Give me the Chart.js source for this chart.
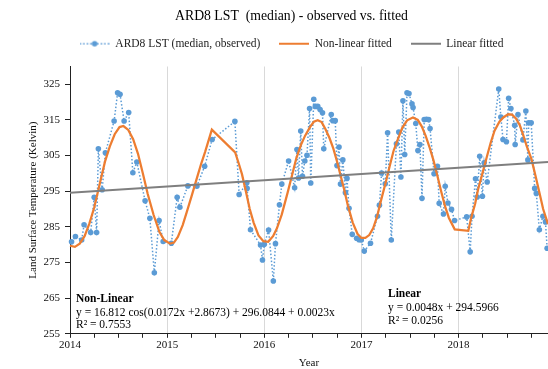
<!DOCTYPE html>
<html>
<head>
<meta charset="utf-8">
<script src="https://cdn.jsdelivr.net/npm/chart.js@4.4.1/dist/chart.umd.min.js"></script>
<style>
  html, body { margin: 0; padding: 0; background: #fff; overflow: hidden; }
  #wrap { width: 584px; height: 369px; }
</style>
</head>
<body>
<div id="wrap"><canvas id="lst-chart" width="584" height="369"></canvas></div>
<script>
// observed median LST (decimal year, Kelvin)
const obsYears = [
  2014.016, 2014.056, 2014.12, 2014.145, 2014.213, 2014.249, 2014.274, 2014.292, 2014.331, 2014.364,
  2014.454, 2014.49, 2014.515, 2014.557, 2014.604, 2014.647, 2014.688, 2014.773, 2014.822, 2014.868,
  2014.917, 2014.959, 2015.043, 2015.103, 2015.131, 2015.213, 2015.306, 2015.386, 2015.463, 2015.697,
  2015.741, 2015.82, 2015.823, 2015.858, 2015.961, 2015.981, 2016.0, 2016.044, 2016.093, 2016.115,
  2016.156, 2016.18, 2016.25, 2016.312, 2016.336, 2016.352, 2016.375, 2016.393, 2016.417, 2016.439,
  2016.466, 2016.478, 2016.509, 2016.525, 2016.55, 2016.574, 2016.599, 2016.612, 2016.689, 2016.705,
  2016.73, 2016.748, 2016.769, 2016.784, 2016.808, 2016.835, 2016.851, 2016.872, 2016.905, 2016.95,
  2016.975, 2016.998, 2017.029, 2017.093, 2017.165, 2017.185, 2017.207, 2017.245, 2017.269, 2017.307,
  2017.36, 2017.384, 2017.406, 2017.427, 2017.445, 2017.469, 2017.489, 2017.52, 2017.531, 2017.559,
  2017.581, 2017.602, 2017.623, 2017.646, 2017.669, 2017.692, 2017.706, 2017.747, 2017.782, 2017.8,
  2017.844, 2017.862, 2017.89, 2017.927, 2017.958, 2018.083, 2018.119, 2018.138, 2018.174, 2018.191,
  2018.217, 2018.245, 2018.263, 2018.294, 2018.413, 2018.435, 2018.457, 2018.492, 2018.515, 2018.538,
  2018.577, 2018.582, 2018.611, 2018.662, 2018.692, 2018.713, 2018.721, 2018.747, 2018.783, 2018.8,
  2018.831, 2018.868, 2018.894, 2018.911
];
const obsLST = [
  280.8, 282.3, 281.3, 285.6, 283.4, 293.3, 283.4, 306.9, 295.4, 305.8,
  314.7, 322.6, 322.2, 314.7, 317.1, 300.2, 303.2, 292.3, 287.4, 272.1,
  286.8, 280.9, 280.4, 293.3, 290.5, 296.5, 296.4, 302.0, 309.5, 314.6,
  294.1, 297.4, 295.8, 284.2, 279.9, 275.7, 280.1, 284.1, 269.8, 280.3,
  291.2, 297.0, 303.5, 296.0, 306.7, 298.7, 311.9, 299.2, 303.5, 305.1,
  318.2, 297.3, 320.8, 318.8, 318.8, 317.9, 317.0, 306.9, 316.5, 314.8,
  314.8, 302.2, 307.4, 297.0, 303.8, 294.6, 298.6, 290.2, 282.9, 281.8,
  281.4, 281.3, 278.2, 280.4, 288.0, 291.1, 300.1, 297.1, 311.4, 281.3,
  308.3, 311.6, 299.0, 320.4, 305.3, 322.6, 322.4, 319.5, 318.5, 314.0,
  306.4, 308.1, 293.0, 315.1, 315.2, 315.1, 312.6, 299.9, 302.0, 291.6,
  288.6, 296.4, 291.7, 289.9, 286.8, 287.8, 278.0, 288.0, 298.5, 293.4,
  304.8, 293.6, 303.0, 297.6, 323.7, 315.8, 309.5, 308.9, 321.1, 318.2,
  313.5, 308.1, 316.5, 309.4, 317.5, 303.8, 314.2, 314.2, 295.8, 294.4,
  284.2, 288.0, 286.4, 279.0
];

// non-linear fitted curve
const fitYears = [
  2014.00, 2014.05, 2014.10, 2014.15, 2014.20, 2014.25, 2014.31, 2014.36, 2014.41, 2014.46,
  2014.51, 2014.55, 2014.60, 2014.65, 2014.70, 2014.75, 2014.80, 2014.86, 2014.92, 2014.97,
  2015.03, 2015.07, 2015.11, 2015.16, 2015.20, 2015.25, 2015.30, 2015.35, 2015.39, 2015.46,
  2015.70, 2015.74, 2015.77, 2015.81, 2015.85, 2015.89, 2015.94, 2015.99, 2016.04, 2016.09,
  2016.13, 2016.18, 2016.24, 2016.29, 2016.33, 2016.38, 2016.42, 2016.47, 2016.51, 2016.55,
  2016.59, 2016.63, 2016.67, 2016.71, 2016.75, 2016.78, 2016.82, 2016.86, 2016.91, 2016.96,
  2017.00, 2017.04, 2017.08, 2017.12, 2017.16, 2017.20, 2017.25, 2017.29, 2017.33, 2017.38,
  2017.42, 2017.47, 2017.53, 2017.58, 2017.62, 2017.66, 2017.70, 2017.74, 2017.78, 2017.82,
  2017.86, 2017.90, 2017.96, 2018.10, 2018.13, 2018.17, 2018.20, 2018.25, 2018.29, 2018.33,
  2018.37, 2018.42, 2018.46, 2018.51, 2018.55, 2018.59, 2018.63, 2018.66, 2018.70, 2018.75,
  2018.79, 2018.82, 2018.87, 2018.92
];
const fitLST = [
  279.7, 279.4, 280.3, 282.4, 286.0, 290.5, 297.5, 303.3, 307.6, 311.0,
  313.0, 313.3, 312.2, 309.6, 305.5, 300.0, 294.2, 288.4, 283.6, 281.3,
  280.3, 280.6, 282.2, 285.5, 289.0, 293.5, 298.1, 302.7, 306.0, 312.3,
  305.9, 302.5, 299.8, 295.0, 290.0, 286.2, 282.6, 281.0, 280.8, 282.4,
  284.6, 288.5, 294.6, 300.0, 304.3, 308.2, 310.6, 313.0, 314.5, 314.9,
  314.4, 312.4, 310.0, 307.0, 303.2, 300.0, 295.7, 291.0, 286.2, 283.0,
  281.9, 281.9, 282.7, 284.6, 287.8, 292.3, 297.5, 302.0, 306.3, 310.0,
  312.8, 314.9, 315.7, 315.0, 313.2, 310.6, 307.4, 303.8, 299.5, 295.0,
  290.8, 287.5, 284.3, 283.9, 287.6, 291.5, 295.5, 300.5, 304.6, 308.6,
  312.0, 314.5, 315.7, 316.6, 316.5, 315.4, 313.5, 311.2, 307.7, 304.0,
  299.5, 296.0, 290.0, 285.8
];

// linear fit end points
const linYears = [2014.0, 2018.92];
const linLST = [294.6, 303.2];

const yTicks = [255, 265, 275, 285, 295, 305, 315, 325];
const xYearLabels = [2014, 2015, 2016, 2017, 2018];

const legendNames = ['ARD8 LST (median, observed)', 'Non-linear fitted', 'Linear fitted'];

const BLUE = '#5b9bd5', ORANGE = '#ed7d31', GREY = '#7f7f7f';
const SERIF = '"Liberation Serif", "Times New Roman", serif';

Chart.defaults.font.family = SERIF;
Chart.defaults.color = '#222';

function zip(xs, ys) { return xs.map((x, i) => ({ x: x, y: ys[i] })); }

function legendIcon(color, dotted) {
    const c = document.createElement('canvas');
    c.width = 30; c.height = 8;
    const g = c.getContext('2d');
    g.strokeStyle = color;
    g.lineWidth = dotted ? 1.5 : 2;
    if (dotted) g.setLineDash([1.5, 2]);
    g.beginPath(); g.moveTo(0, 4); g.lineTo(30, 4); g.stroke();
    if (dotted) {
        g.fillStyle = color;
        g.beginPath(); g.arc(15, 4, 2.8, 0, Math.PI * 2); g.fill();
    }
    return c;
}
const icons = [legendIcon(BLUE, true), legendIcon(ORANGE, false), legendIcon(GREY, false)];

// room between legend and plot
const legendGap = {
    id: 'legendGap',
    afterInit(chart) {
        const lg = chart.legend;
        const fit = lg.fit;
        lg.fit = function () { fit.call(this); this.height += 7; };
    }
};

// equation boxes
const equations = {
    id: 'equations',
    afterDraw(chart) {
        const ctx = chart.ctx;
        ctx.save();
        ctx.fillStyle = '#000';
        ctx.textBaseline = 'middle';
        ctx.textAlign = 'left';
        ctx.font = 'bold 11.5px ' + SERIF;
        ctx.fillText('Non-Linear', 76, 299);
        ctx.fillText('Linear', 388, 294);
        ctx.font = '11.5px ' + SERIF;
        ctx.fillText('y = 16.812 cos(0.0172x +2.8673) + 296.0844 + 0.0023x', 76, 313);
        ctx.fillText('R\u00b2 = 0.7553', 76, 325);
        ctx.fillText('y = 0.0048x + 294.5966', 388, 308);
        ctx.fillText('R\u00b2 = 0.0256', 388, 320.5);
        ctx.restore();
    }
};

new Chart(document.getElementById('lst-chart'), {
    type: 'scatter',
    data: {
        datasets: [
            {
                label: legendNames[0], data: zip(obsYears, obsLST), showLine: true,
                borderColor: BLUE, borderWidth: 1.5, borderDash: [1.5, 2],
                pointRadius: 2.8, pointBackgroundColor: BLUE, pointBorderColor: BLUE, pointBorderWidth: 0,
                order: 3, clip: false
            },
            {
                label: legendNames[1], data: zip(fitYears, fitLST), showLine: true,
                borderColor: ORANGE, borderWidth: 2.25, pointRadius: 0, order: 2, clip: false
            },
            {
                label: legendNames[2], data: zip(linYears, linLST), showLine: true,
                borderColor: GREY, borderWidth: 2, pointRadius: 0, order: 1, clip: false
            }
        ]
    },
    options: {
        responsive: false,
        animation: false,
        layout: { padding: { top: 0, left: 35, right: 36, bottom: 0 } },
        plugins: {
            title: {
                display: true,
                text: 'ARD8 LST  (median) - observed vs. fitted',
                color: '#000',
                font: { size: 13.75, weight: 'normal' },
                padding: { top: 8.5, bottom: 0 }
            },
            legend: {
                display: true,
                position: 'top',
                labels: {
                    usePointStyle: true,
                    pointStyleWidth: 30,
                    padding: 13,
                    color: '#222',
                    font: { size: 11.5 },
                    generateLabels: () => legendNames.map((name, i) => ({
                        text: i < 2 ? name + '  ' : name,
                        pointStyle: icons[i],
                        datasetIndex: i,
                        fillStyle: 'transparent',
                        strokeStyle: 'transparent',
                        lineWidth: 0,
                        fontColor: '#222'
                    }))
                }
            },
            tooltip: { enabled: false }
        },
        scales: {
            x: {
                type: 'linear',
                min: 2014,
                max: 2018.92,
                afterBuildTicks: (s) => {
                    const t = [];
                    xYearLabels.forEach(y => [0, 0.25, 0.5, 0.75].forEach(q => t.push({ value: y + q })));
                    s.ticks = t;
                },
                ticks: {
                    autoSkip: false, maxRotation: 0, padding: 1,
                    color: '#111', font: { size: 11 },
                    callback: (v) => xYearLabels.includes(v) ? String(v) : ''
                },
                grid: {
                    color: (c) => (c.tick && Number.isInteger(c.tick.value) && c.tick.value > 2014) ? '#d9d9d9' : 'rgba(0,0,0,0)',
                    tickColor: '#222',
                    tickLength: 4,
                    lineWidth: 1
                },
                border: { display: true, color: '#222', width: 1 },
                title: {
                    display: true, text: 'Year', color: '#111',
                    font: { size: 11, lineHeight: 1 }, padding: { top: 5, bottom: 0 }
                }
            },
            y: {
                min: 255,
                max: 330,
                afterBuildTicks: (s) => { s.ticks = yTicks.map(v => ({ value: v })); },
                ticks: { padding: 5, color: '#111', font: { size: 11 } },
                grid: { drawOnChartArea: false, tickColor: '#222', tickLength: 5 },
                border: { display: true, color: '#222', width: 1 },
                title: {
                    display: true, text: 'Land Surface Temperature (Kelvin)', color: '#111',
                    font: { size: 11, lineHeight: 1 }, padding: { top: -7.5, bottom: 0 }
                }
            }
        }
    },
    plugins: [legendGap, equations]
});
</script>
</body>
</html>
